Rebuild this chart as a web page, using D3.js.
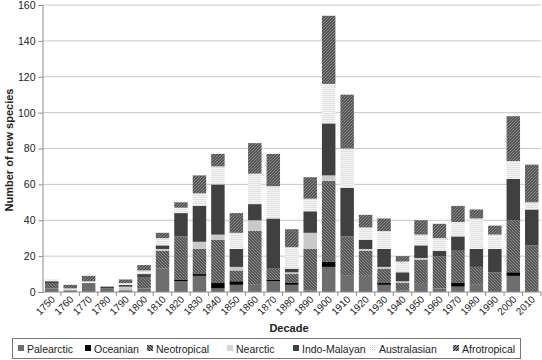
<!DOCTYPE html>
<html>
<head>
<meta charset="utf-8">
<script src="https://cdn.jsdelivr.net/npm/d3@7"></script>
<style>
  body { margin: 0; background: #fff; }
  svg { font-family: "Liberation Sans", Arial, sans-serif; }
</style>
</head>
<body>
<div id="chart-area"></div>
<script>
var decades = ["1750","1760","1770","1780","1790","1800","1810","1820","1830","1840",
    "1850","1860","1870","1880","1890","1900","1910","1920","1930","1940",
    "1950","1960","1970","1980","1990","2000","2010"];

var palearctic   = [2,1,5,2,1,2,13,6,9,2,4,4,6,4,1,14,9,9,4,1,5,2,3,4,0,9,0];
var oceanian     = [0,0,0,0,0,0,0,1,1,3,2,0,1,1,0,3,0,0,1,0,0,0,2,0,0,2,0];
var neotropical  = [3,0,0,0,0,6,10,24,14,24,6,30,6,5,23,45,22,14,8,4,13,18,18,10,11,29,26];
var nearctic     = [0,0,0,0,2,0,1,0,4,3,2,6,0,1,9,3,0,1,1,1,1,0,0,0,0,0,0];
var indoMalayan  = [1,0,0,1,1,2,2,13,20,28,10,9,28,2,12,29,27,5,10,5,7,3,8,10,13,23,20];
var australasian = [1,1,1,0,1,2,4,3,7,10,9,17,18,12,7,22,22,7,10,6,6,7,8,17,8,10,4];
var afrotropical = [0,2,3,0,2,3,3,3,10,7,11,17,18,10,12,38,30,7,7,3,8,8,9,5,5,25,21];

var seriesNames = ["Palearctic","Oceanian","Neotropical","Nearctic","Indo-Malayan","Australasian","Afrotropical"];
var seriesValues = [palearctic, oceanian, neotropical, nearctic, indoMalayan, australasian, afrotropical];
var yTicks = [0,20,40,60,80,100,120,140,160];

var margin = { left: 42.5, right: 1, top: 5, bottom: 68 };
var width = 542 - margin.left - margin.right;
var height = 360 - margin.top - margin.bottom;

var svg = d3.select("#chart-area").append("svg")
    .attr("width", 542)
    .attr("height", 360);

// patterns
var defs = svg.append("defs");
var neo = defs.append("pattern").attr("id", "p-neo")
    .attr("patternUnits", "userSpaceOnUse").attr("width", 3).attr("height", 3);
neo.append("rect").attr("width", 3).attr("height", 3).attr("fill", "#fff");
neo.append("path").attr("d", "M-1,-1 L4,4 M-1,2 L1,4 M2,-1 L4,1")
    .attr("stroke", "#222").attr("stroke-width", 1.5);

var afr = defs.append("pattern").attr("id", "p-afr")
    .attr("patternUnits", "userSpaceOnUse").attr("width", 3).attr("height", 3);
afr.append("rect").attr("width", 3).attr("height", 3).attr("fill", "#fff");
afr.append("path").attr("d", "M-1,4 L4,-1 M-1,1 L1,-1 M2,4 L4,2")
    .attr("stroke", "#222").attr("stroke-width", 1.5);

var aus = defs.append("pattern").attr("id", "p-aus")
    .attr("patternUnits", "userSpaceOnUse").attr("width", 2).attr("height", 2);
aus.append("rect").attr("width", 2).attr("height", 2).attr("fill", "#f4f4f4");
aus.append("rect").attr("width", 1).attr("height", 1).attr("fill", "#cfcfcf");

var fills = ["#6e6e6e", "#000", "url(#p-neo)", "#c9c9c9", "#404040", "url(#p-aus)", "url(#p-afr)"];

var g = svg.append("g")
    .attr("transform", "translate(" + margin.left + ", " + margin.top + ")");

var x = d3.scaleBand()
    .domain(decades)
    .range([0, width])
    .paddingInner(0.27)
    .paddingOuter(0.135);

var y = d3.scaleLinear()
    .domain([0, 160])
    .range([height, 0]);

// gridlines
g.selectAll("line.grid")
    .data(yTicks.slice(1))
    .enter().append("line")
    .attr("class", "grid")
    .attr("x1", 0).attr("x2", width)
    .attr("y1", (d) => y(d)).attr("y2", (d) => y(d))
    .attr("stroke", "#c8c8c8").attr("stroke-width", 1);

// stacked data
var table = decades.map((d, i) => {
    var row = { decade: d };
    seriesNames.forEach((s, j) => { row[s] = seriesValues[j][i]; });
    return row;
});
var stack = d3.stack().keys(seriesNames)(table);

g.selectAll("g.layer")
    .data(stack)
    .enter().append("g")
    .attr("class", "layer")
    .attr("fill", (d, i) => fills[i])
    .selectAll("rect")
    .data((d) => d)
    .enter().append("rect")
    .attr("x", (d) => x(d.data.decade))
    .attr("y", (d) => y(d[1]))
    .attr("width", x.bandwidth())
    .attr("height", (d) => y(d[0]) - y(d[1]));

// left axis
var leftAxis = d3.axisLeft(y).tickValues(yTicks).tickSize(4).tickPadding(3);
var ly = g.append("g")
    .attr("class", "left axis")
    .call(leftAxis);
ly.select(".domain").attr("stroke", "#8c8c8c");
ly.selectAll(".tick line").attr("stroke", "#8c8c8c");
ly.selectAll("text").attr("font-size", "10.5px").attr("fill", "#222");

// bottom axis with ticks between bands
var bx = g.append("g")
    .attr("class", "bottom axis")
    .attr("transform", "translate(0, " + height + ")");
bx.append("line")
    .attr("x1", 0).attr("x2", width)
    .attr("stroke", "#8c8c8c");
bx.selectAll("line.sep")
    .data(decades)
    .enter().append("line")
    .attr("class", "sep")
    .attr("x1", (d) => x(d) + x.bandwidth() + x.step() * x.paddingInner() / 2)
    .attr("x2", (d) => x(d) + x.bandwidth() + x.step() * x.paddingInner() / 2)
    .attr("y1", 0).attr("y2", 4)
    .attr("stroke", "#8c8c8c");
bx.selectAll("text")
    .data(decades)
    .enter().append("text")
    .attr("font-size", "10px")
    .attr("fill", "#222")
    .attr("text-anchor", "end")
    .attr("transform", (d) => "translate(" + (x(d) + x.bandwidth() / 2 + 4) + ", 8) rotate(-45)")
    .text((d) => d);

// X Label
svg.append("text")
    .attr("x", 289)
    .attr("y", 332)
    .attr("font-size", "11px")
    .attr("font-weight", "bold")
    .attr("text-anchor", "middle")
    .style("fill", "#222")
    .text("Decade");

// Y Label
svg.append("text")
    .attr("x", -150)
    .attr("y", 13)
    .attr("font-size", "11px")
    .attr("font-weight", "bold")
    .attr("text-anchor", "middle")
    .attr("transform", "rotate(-90)")
    .style("fill", "#222")
    .text("Number of new species");

// legend
var legend = svg.append("g").attr("class", "legend");
legend.append("rect")
    .attr("x", 12.5).attr("y", 338.5)
    .attr("width", 508).attr("height", 20)
    .attr("fill", "#fff").attr("stroke", "#777");

var legendX = [18, 85, 147, 227, 293, 370, 453];
var legendFills = ["#6e6e6e", "#000", "url(#p-neo)", "#d6d6d6", "#404040", "url(#p-aus)", "url(#p-afr)"];
var items = legend.selectAll("g.item")
    .data(seriesNames)
    .enter().append("g")
    .attr("class", "item")
    .attr("transform", (d, i) => "translate(" + legendX[i] + ", 345)");
items.append("rect")
    .attr("width", 6).attr("height", 6)
    .attr("fill", (d, i) => legendFills[i]);
items.append("text")
    .attr("x", 9)
    .attr("y", 7.5)
    .attr("font-size", "10.5px")
    .style("fill", "#222")
    .text((d) => d);
</script>
</body>
</html>
